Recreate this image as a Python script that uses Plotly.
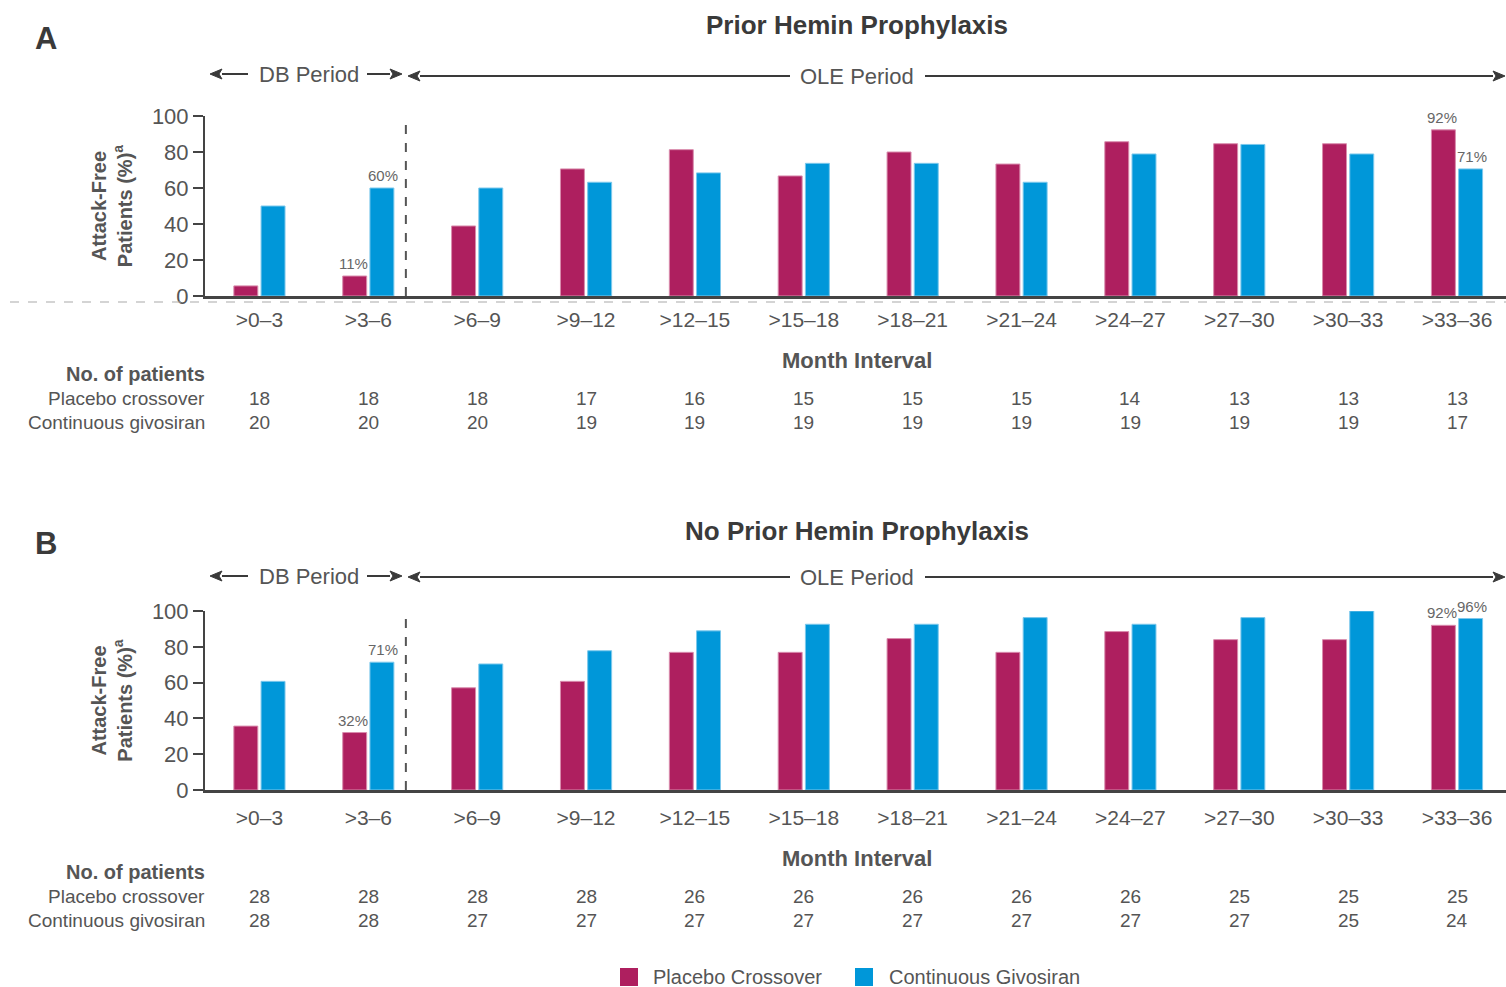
import plotly.graph_objects as go

# ---- data -------------------------------------------------------------
intervals = [">0–3", ">3–6", ">6–9", ">9–12", ">12–15", ">15–18",
             ">18–21", ">21–24", ">24–27", ">27–30", ">30–33", ">33–36"]

# Panel A: prior hemin prophylaxis (% attack-free)
a_placebo = [5.6, 11.1, 38.9, 70.6, 81.3, 66.7, 80.0, 73.3, 85.7, 84.6, 84.6, 92.3]
a_givosiran = [50.0, 60.0, 60.0, 63.2, 68.4, 73.7, 73.7, 63.2, 78.9, 84.2, 78.9, 70.6]
a_n_placebo = [18, 18, 18, 17, 16, 15, 15, 15, 14, 13, 13, 13]
a_n_givosiran = [20, 20, 20, 19, 19, 19, 19, 19, 19, 19, 19, 17]

# Panel B: no prior hemin prophylaxis (% attack-free)
b_placebo = [35.7, 32.1, 57.1, 60.7, 76.9, 76.9, 84.6, 76.9, 88.5, 84.0, 84.0, 92.0]
b_givosiran = [60.7, 71.4, 70.4, 77.8, 88.9, 92.6, 92.6, 96.3, 92.6, 96.3, 100.0, 95.8]
b_n_placebo = [28, 28, 28, 28, 26, 26, 26, 26, 26, 25, 25, 25]
b_n_givosiran = [28, 28, 27, 27, 27, 27, 27, 27, 27, 27, 25, 24]

series_names = ["Placebo Crossover", "Continuous Givosiran"]

# intervals whose bars carry a printed percentage
labelled = [1, 11]

# ---- style ------------------------------------------------------------
W, H = 1506, 987
MAGENTA = "#AE1F5F"
BLUE = "#0097D9"
TXT = "#555555"
DARK = "#3A3A3A"
AXIS = "#444444"
FONT = "Liberation Sans, Arial, sans-serif"
BAR_SHIFT = 15  # px from category centre to each bar centre


def px(x):
    return x / W


def py(y):
    return 1 - y / H


fig = go.Figure()
ann = []
shapes = []

panels = [
    dict(xa="x", ya="y", pl=a_placebo, gv=a_givosiran),
    dict(xa="x2", ya="y2", pl=b_placebo, gv=b_givosiran),
]

for p in panels:
    for name, vals, col, edge, grp, shift in [
        (series_names[0], p["pl"], MAGENTA, "#D98CAD", "pl", -BAR_SHIFT),
        (series_names[1], p["gv"], BLUE, "#7CC8EC", "gv", BAR_SHIFT),
    ]:
        fig.add_trace(go.Bar(
            x=intervals, y=vals, name=name,
            marker=dict(color=col, line=dict(color=edge, width=1)),
            xaxis=p["xa"], yaxis=p["ya"], legendgroup=grp,
            showlegend=False, hoverinfo="skip"))
        # percentage labels over selected bars, taken from the bar values
        for i in labelled:
            ann.append(dict(text=f"{vals[i]:.0f}%", x=intervals[i], y=vals[i],
                            xref=p["xa"], yref=p["ya"], xshift=shift, yshift=2,
                            xanchor="center", yanchor="bottom", showarrow=False,
                            font=dict(size=15, color="#666666", family=FONT)))

# ---- axes -------------------------------------------------------------
xdom = [px(205), 1.0]
xcommon = dict(
    type="category", range=[-0.5, 11.45], domain=xdom, automargin=False,
    showline=True, linecolor=AXIS, linewidth=2.5, ticks="",
    showgrid=False, zeroline=False, fixedrange=True,
    tickfont=dict(size=21, color=TXT, family=FONT),
)
ycommon = dict(
    range=[0, 100], tickvals=[0, 20, 40, 60, 80, 100], automargin=False,
    showline=True, linecolor=AXIS, linewidth=2, ticks="outside",
    ticklen=10, tickwidth=2, tickcolor=AXIS, showgrid=False,
    zeroline=False, fixedrange=True,
    tickfont=dict(size=22, color=TXT, family=FONT),
    title=dict(text="<b>Attack-Free<br>Patients (%)<sup>a</sup></b>",
               font=dict(size=20, color=TXT, family=FONT), standoff=14),
)

fig.update_layout(
    xaxis=dict(xcommon, anchor="y", ticklabelstandoff=3),
    yaxis=dict(ycommon, anchor="x", domain=[py(296), py(116)]),
    xaxis2=dict(xcommon, anchor="y2", ticklabelstandoff=7),
    yaxis2=dict(ycommon, anchor="x2", domain=[py(790), py(611)]),
)


def arrow(x_head, x_tail, y):
    """Horizontal arrow drawn as a line plus a filled triangular head."""
    d = 1 if x_head > x_tail else -1
    base = x_head - d * 12
    shapes.append(dict(type="line", xref="paper", yref="paper",
                       x0=px(x_tail), x1=px(base), y0=py(y), y1=py(y),
                       line=dict(color=DARK, width=2)))
    shapes.append(dict(type="path", xref="paper", yref="paper",
                       path=(f"M {px(x_head)},{py(y)} L {px(base)},{py(y - 5)} "
                             f"L {px(base + d * 3)},{py(y)} L {px(base)},{py(y + 5)} Z"),
                       fillcolor=DARK, line=dict(color=DARK, width=1)))


# ---- annotations & shapes ---------------------------------------------
blocks = [
    dict(letter="A", title="Prior Hemin Prophylaxis", xa="x", ya="y",
         y_letter=38, y_title=25, y_db=74, y_ole=76, y_xt=360, y_tab=374,
         npl=a_n_placebo, ngv=a_n_givosiran),
    dict(letter="B", title="No Prior Hemin Prophylaxis", xa="x2", ya="y2",
         y_letter=543, y_title=531, y_db=576, y_ole=577, y_xt=858, y_tab=872,
         npl=b_n_placebo, ngv=b_n_givosiran),
]

for b in blocks:
    ann.append(dict(text=f"<b>{b['letter']}</b>", x=px(33), y=py(b["y_letter"]),
                    xref="paper", yref="paper", xanchor="left", yanchor="middle",
                    showarrow=False, font=dict(size=31, color=DARK, family=FONT)))
    ann.append(dict(text=f"<b>{b['title']}</b>", x=px(857), y=py(b["y_title"]),
                    xref="paper", yref="paper", xanchor="center", yanchor="middle",
                    showarrow=False, font=dict(size=26, color=DARK, family=FONT)))

    # period arrows
    ya, yo = b["y_db"], b["y_ole"]
    ann.append(dict(text="DB Period", x=px(309), y=py(ya), xref="paper", yref="paper",
                    xanchor="center", yanchor="middle", showarrow=False,
                    font=dict(size=22, color=TXT, family=FONT)))
    ann.append(dict(text="OLE Period", x=px(857), y=py(yo), xref="paper", yref="paper",
                    xanchor="center", yanchor="middle", showarrow=False,
                    font=dict(size=22, color=TXT, family=FONT)))
    arrow(210, 248, ya)
    arrow(402, 367, ya)
    arrow(408, 790, yo)
    arrow(1505, 925, yo)

    # x-axis title
    ann.append(dict(text="<b>Month Interval</b>", x=px(857), y=py(b["y_xt"]),
                    xref="paper", yref="paper", xanchor="center", yanchor="middle",
                    showarrow=False, font=dict(size=22, color=TXT, family=FONT)))

    # patient-count table
    r0 = b["y_tab"]
    ann.append(dict(text="<b>No. of patients</b>", x=px(207), y=py(r0), xref="paper",
                    yref="paper", xanchor="right", yanchor="middle", showarrow=False,
                    font=dict(size=20, color=TXT, family=FONT)))
    for label, counts, off in [("Placebo crossover", b["npl"], 24),
                               ("Continuous givosiran", b["ngv"], 48)]:
        ann.append(dict(text=label, x=px(207), y=py(r0 + off), xref="paper",
                        yref="paper", xanchor="right", yanchor="middle", showarrow=False,
                        font=dict(size=19, color=TXT, family=FONT)))
        for cat, n in zip(intervals, counts):
            ann.append(dict(text=str(n), x=cat, y=py(r0 + off), xref=b["xa"],
                            yref="paper", xanchor="center", yanchor="middle",
                            showarrow=False, font=dict(size=19, color=TXT, family=FONT)))

    # DB / OLE divider
    shapes.append(dict(type="line", xref=b["xa"], yref=b["ya"], x0=1.345, x1=1.345,
                       y0=0, y1=100, line=dict(color="#555555", width=2, dash="dash")))

# light dashed reference under the baseline of panel A
shapes.append(dict(type="line", xref="paper", yref="paper", x0=px(10), x1=1,
                   y0=py(302), y1=py(302),
                   line=dict(color="#AAAAAA", width=1.2, dash="dash")))

# legend: colour keys and series names along the bottom edge
for (sq_left, txt_left), name, col in zip([(620, 651), (855, 887)], series_names,
                                          [MAGENTA, BLUE]):
    shapes.append(dict(type="rect", xref="paper", yref="paper",
                       x0=px(sq_left), x1=px(sq_left + 18), y0=py(986), y1=py(968),
                       fillcolor=col, line=dict(width=0)))
    ann.append(dict(text=name, x=px(txt_left), y=py(977), xref="paper", yref="paper",
                    xanchor="left", yanchor="middle", showarrow=False,
                    font=dict(size=20, color=TXT, family=FONT)))

fig.update_layout(
    width=W, height=H,
    margin=dict(l=0, r=0, t=0, b=0, autoexpand=False),
    paper_bgcolor="white", plot_bgcolor="white",
    barmode="group", bargap=0.5, bargroupgap=0.12,
    font=dict(family=FONT, color=TXT),
    annotations=ann, shapes=shapes,
    showlegend=False,
)

fig.write_html("out.html")
